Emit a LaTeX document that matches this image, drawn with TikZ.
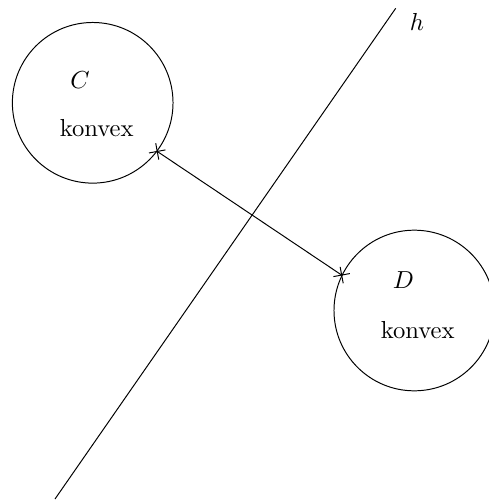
\documentclass[tikz,border=0pt]{standalone}
\usetikzlibrary{shapes.misc}

\begin{document}
\begin{tikzpicture}[x=0.4065pt, y=-0.4065pt,
    menge/.style={draw, circle, minimum size=65.3pt, inner sep=0pt},
    kreuz/.style={draw, cross out, minimum size=4.4pt, inner sep=0pt}]
    \useasboundingbox (0,0) rectangle (488,501);
    % Trennende Hyperebene
    \coordinate (h1) at (55,499);
    \coordinate (h2) at (395.7,8.3);
    \draw (h1) -- (h2);
    \node (hlab) at (417,21.7) {$h$};
    % Menge C
    \node[menge] (C) at (92.7,102.8) {};
    \node (Clab) at (80,80) {$C$};
    \node (Ctxt) at (96.7,128.3) {konvex};
    % Menge D
    \node[menge] (D) at (414.3,310.5) {};
    \node (Dlab) at (403.3,280) {$D$};
    \node (Dtxt) at (417.7,330) {konvex};
    % Kuerzester Abstand
    \draw (C.-37.6) -- (D.154.6);
    \node[kreuz, rotate=-34.5] (pc) at (C.-37.6) {};
    \node[kreuz, rotate=-34.5] (pd) at (D.154.6) {};
\end{tikzpicture}
\end{document}
